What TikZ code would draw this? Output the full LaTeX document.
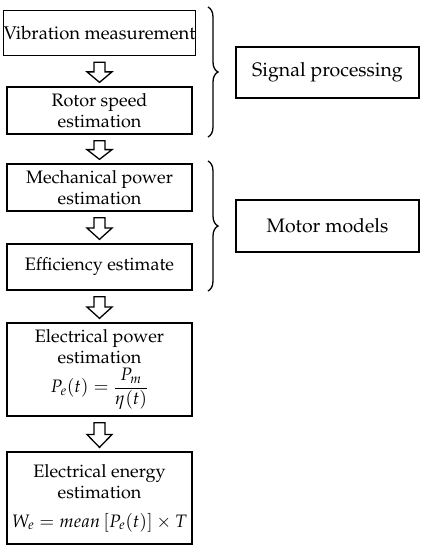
\documentclass[tikz,border=0pt]{standalone}
\usepackage[T1]{fontenc}
\usepackage{mathpazo}
\usepackage{amsmath}
\usetikzlibrary{decorations.pathreplacing,calc}
\tikzset{
  txt/.style={font=\fontsize{18}{21.5}\selectfont},
  stepbox/.style={draw, line width=1.3pt, minimum width=185pt, align=center, inner sep=0pt, txt},
  sidebox/.style={draw, line width=1.3pt, minimum width=183pt, minimum height=51pt, inner sep=0pt, font=\fontsize{19.5}{22}\selectfont},
  blockarr/.style={draw, line width=1.3pt, fill=white, line join=miter},
  bracestyle/.style={decorate, decoration={brace, amplitude=10pt}, line width=1.3pt}
}
\newcommand\blockdown[2]{%
  \coordinate (#1top) at ($(#1.south)+(0,6)$);
  \coordinate (#1tip) at ($(#2.north)+(0,-4)$);
  \coordinate (#1mid) at ($(#1top)!0.48!(#1tip)$);
  \draw[blockarr] ($(#1top)+(-5.5,0)$) -- ($(#1top)+(5.5,0)$) -- ($(#1mid)+(5.5,0)$)
    -- ($(#1mid)+(12.5,0)$) -- (#1tip) -- ($(#1mid)+(-12.5,0)$) -- ($(#1mid)+(-5.5,0)$) -- cycle;
}
\begin{document}
\begin{tikzpicture}[x=1pt,y=-1pt]
\useasboundingbox (0,0) rectangle (425,550);
\node[stepbox, minimum height=45pt, font=\fontsize{18.4}{22}\selectfont] (b1) at (99.5,33) {Vibration measurement};
\node[stepbox, minimum height=47pt] (b2) at (99.5,110.5) {Rotor speed\\estimation};
\node[stepbox, minimum height=47pt] (b3) at (99.5,187.5) {Mechanical power\\estimation};
\node[stepbox, minimum height=46pt] (b4) at (99.5,267) {Efficiency estimate};
\node[stepbox, minimum height=93pt] (b5) at (99.5,369.5) {Electrical power\\estimation\\[3pt]$P_e(t)=\dfrac{P_m}{\eta(t)}$};
\node[stepbox, minimum height=92pt] (b6) at (99.5,498) {Electrical energy\\estimation\\[7pt]$W_e = mean\,[P_e(t)]\times T$};
\node[sidebox] (sp) at (327.5,72.5) {Signal processing};
\node[sidebox, minimum height=52pt] (mm) at (327.5,226) {Motor models};
\blockdown{b1}{b2}
\blockdown{b2}{b3}
\blockdown{b3}{b4}
\blockdown{b4}{b5}
\blockdown{b5}{b6}
\coordinate (br1a) at (208,7);
\coordinate (br1b) at (208,137);
\coordinate (br2a) at (208,161);
\coordinate (br2b) at (208,291);
\draw[bracestyle] (br1a) -- (br1b);
\draw[bracestyle] (br2a) -- (br2b);
\end{tikzpicture}
\end{document}
